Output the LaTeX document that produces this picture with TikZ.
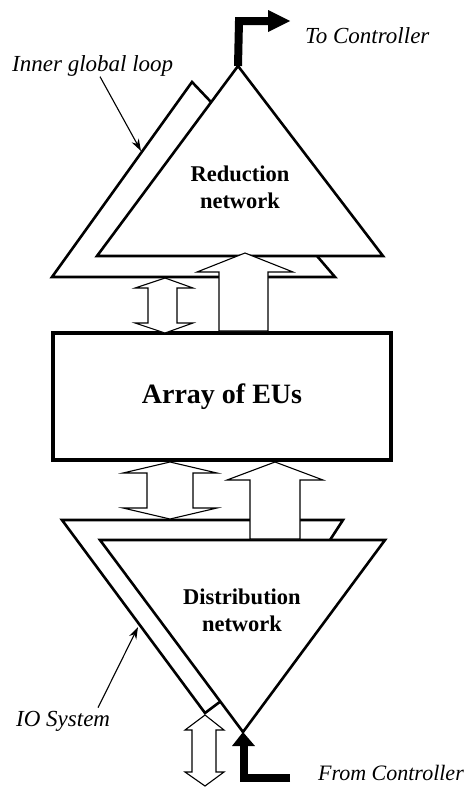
\documentclass[tikz,border=0pt]{standalone}
\usepackage{fontspec}
\setmainfont{Liberation Serif}
\usetikzlibrary{arrows.meta,calc}
\begin{document}
\begin{tikzpicture}[x=1pt,y=-1pt,
  tri/.style={line width=2.6pt, line join=miter},
  blockarrow/.style={draw, fill=white, line width=1.1pt, line join=miter},
  thickarr/.style={line width=8pt, line join=miter},
  lbl/.style={font=\fontsize{23}{26}\selectfont\itshape, inner sep=0pt, anchor=west},
  netlbl/.style={font=\fontsize{22.5}{27}\selectfont\bfseries, align=center, inner sep=0pt},
  pointer/.style={line width=1.1pt, -{Stealth[length=12pt,width=8pt]}}]
\useasboundingbox (0,0) rectangle (467,787);

% Reduction network (upper triangle) and inner global loop
\coordinate (rA) at (238,66);
\coordinate (rL) at (97,256);
\coordinate (rR) at (383,256);
\draw[tri] (211,102) -- (192,82) -- (52,277) -- (335,277) -- (317,256);
\draw[tri] (rA) -- (rL) -- (rR) -- cycle;

% Distribution network (lower triangle) and IO system
\coordinate (dA) at (243,732);
\coordinate (dL) at (100,540);
\coordinate (dR) at (385,540);
\coordinate (ioEnd) at (205,713);
\draw[tri] (330,540) -- (343,520) -- (62,520) -- (ioEnd) -- ($(dL)!(ioEnd)!(dA)$);
\draw[tri] (dA) -- (dL) -- (dR) -- cycle;

% Array of EUs
\node[draw, line width=3.5pt, minimum width=338pt, minimum height=127pt, inner sep=0pt,
      font=\fontsize{28}{32}\selectfont\bfseries] (eus) at (222,396.5) {Array of EUs};

% Block arrows upper
\draw[blockarrow] (165,278) -- (193,288) -- (177,288) -- (177,323) -- (193,323) -- (165,333)
  -- (135,323) -- (148,323) -- (148,288) -- (135,288) -- cycle;
\draw[blockarrow] (245,253) -- (293,272) -- (268,272) -- (268,331) -- (219,331) -- (219,272)
  -- (197,272) -- cycle;

% Block arrows lower
\draw[blockarrow] (170,462) -- (217,473) -- (193,473) -- (193,508) -- (217,508) -- (170,519)
  -- (123,508) -- (147,508) -- (147,473) -- (123,473) -- cycle;
\draw[blockarrow] (275,462) -- (323,480) -- (300,480) -- (300,539) -- (250,539) -- (250,480)
  -- (227,480) -- cycle;

% IO double arrow
\draw[blockarrow] (205,715) -- (224,730) -- (216,730) -- (216,772) -- (224,772) -- (205,786)
  -- (185,772) -- (192,772) -- (192,730) -- (185,730) -- cycle;

% Thick controller arrows
\draw[thickarr] (rA) -- (239,21) -- (268,21);
\fill (268,10) -- (290,21) -- (268,32) -- cycle;
\draw[thickarr] (290,778) -- (244,778) -- (244,745);
\fill (232,746) -- (dA) -- (255,746) -- cycle;

% Texts
\node[netlbl] (red) at (240,187) {Reduction\\network};
\node[netlbl] (dist) at (242,610) {Distribution\\network};
\node[lbl] (toc) at (305,36) {To Controller};
\node[lbl, anchor=east, font=\fontsize{22}{25}\selectfont\itshape] (fromc) at (464,773) {From Controller};
\node[lbl] (igl) at (12,66) {Inner global loop};
\node[lbl] (io) at (16,721) {IO System};

% Pointers
\coordinate (iglTip) at (141,151);
\coordinate (ioTip) at (138,627);
\draw[pointer] ($(igl.south west)+(88,0)$) -- (iglTip);
\draw[pointer] ($(io.north west)+(82,-3)$) -- (ioTip);
\end{tikzpicture}
\end{document}
